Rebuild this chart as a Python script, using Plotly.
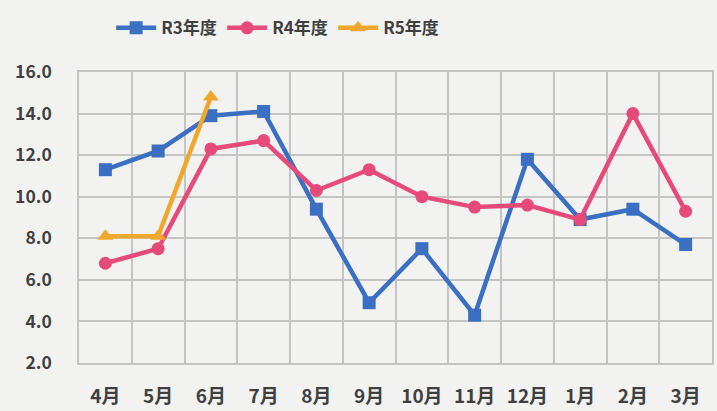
import plotly.graph_objects as go

months = ["4月", "5月", "6月", "7月", "8月", "9月", "10月", "11月", "12月", "1月", "2月", "3月"]
r3 = [11.3, 12.2, 13.9, 14.1, 9.4, 4.9, 7.5, 4.3, 11.8, 8.9, 9.4, 7.7]
r4 = [6.8, 7.5, 12.3, 12.7, 10.3, 11.3, 10.0, 9.5, 9.6, 8.9, 14.0, 9.3]
r5 = [8.1, 8.1, 14.8]
y_ticks = [2, 4, 6, 8, 10, 12, 14, 16]

font_family = "Noto Sans CJK JP"
text_color = "#3f3f3f"
grid_color = "#c4c4c4"
bg = "#f2f2f1"

fig = go.Figure()
fig.add_trace(go.Scatter(x=months, y=r3, name="R3年度", mode="lines+markers",
                         line=dict(color="#3b6fc1", width=4.5),
                         marker=dict(symbol="square", size=13, color="#3b6fc1")))
fig.add_trace(go.Scatter(x=months, y=r4, name="R4年度", mode="lines+markers",
                         line=dict(color="#e64a7a", width=4.5),
                         marker=dict(symbol="circle", size=13, color="#e64a7a")))
fig.add_trace(go.Scatter(x=months[:len(r5)], y=r5, name="R5年度", mode="lines+markers",
                         line=dict(color="#f0a82c", width=4.5),
                         marker=dict(symbol="triangle-up", size=14, color="#f0a82c")))

fig.update_layout(
    width=717, height=411,
    margin=dict(l=79, r=3, t=72, b=44),
    paper_bgcolor=bg, plot_bgcolor=bg,
    font=dict(family=font_family, color=text_color, size=16),
    legend=dict(orientation="h", x=0.155, xanchor="left", y=0.975, yanchor="top",
                yref="container", xref="container",
                font=dict(size=17, color=text_color, weight="bold"),
                itemwidth=40, entrywidth=56, bgcolor="rgba(0,0,0,0)"),
    showlegend=True,
)
fig.update_xaxes(type="category", categoryorder="array", categoryarray=months,
                 tickson="boundaries", showgrid=True, gridcolor=grid_color, gridwidth=1.5,
                 showline=True, linecolor=grid_color, linewidth=1.5, mirror=True,
                 ticks="", tickfont=dict(size=19, color=text_color, weight="bold"),
                 ticklabelstandoff=15, range=[-0.5, 11.5])
fig.update_yaxes(range=[2, 16], tickvals=y_ticks, ticktext=[f"{v:.1f}" for v in y_ticks],
                 showgrid=True, gridcolor=grid_color, gridwidth=1.5,
                 showline=True, linecolor=grid_color, linewidth=1.5, mirror=True,
                 zeroline=False, ticks="", tickfont=dict(size=17.5, color=text_color, weight="bold"),
                 ticklabelstandoff=22)

fig.write_html("out.html", config={"displayModeBar": False},
               post_script="document.body.style.margin='0';document.body.style.background='#f2f2f1';")
